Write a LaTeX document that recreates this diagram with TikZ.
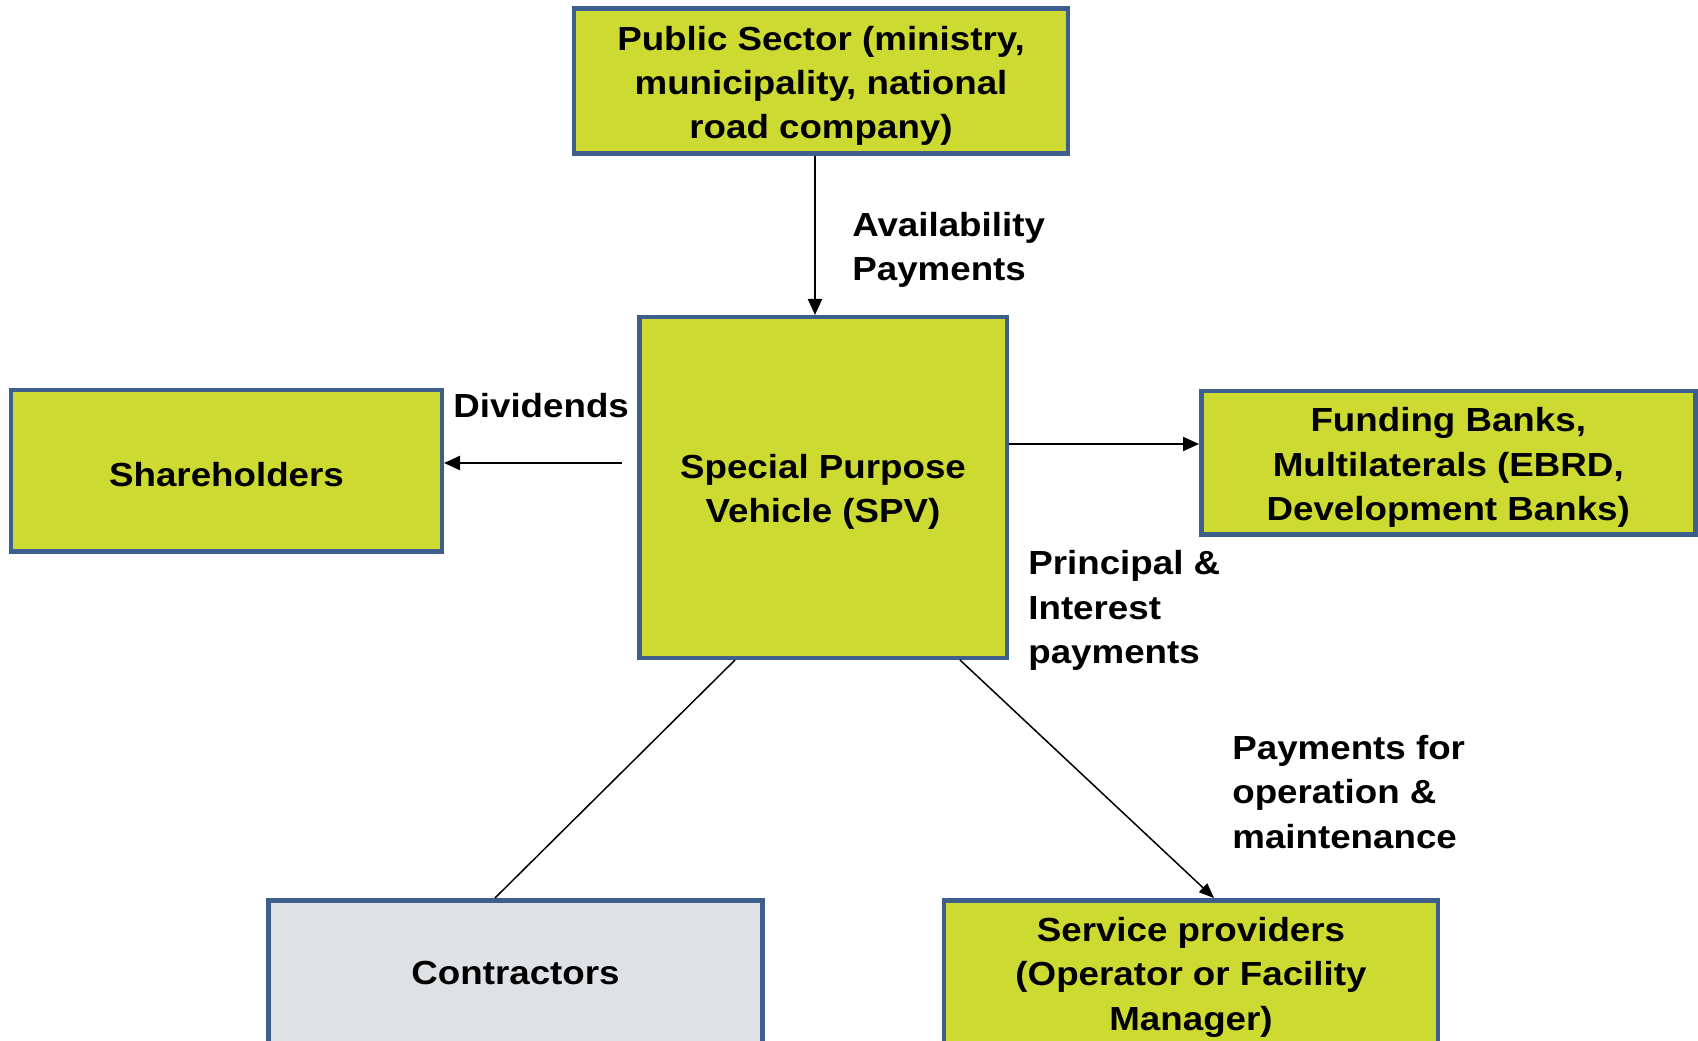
\documentclass[tikz,border=0pt]{standalone}
\usepackage{fontspec}
\usepackage{tikz}
\usetikzlibrary{positioning,arrows.meta}
\newfontfamily\diagfont{Liberation Sans}[FakeStretch=1.10]
\definecolor{pppgreen}{RGB}{205,218,50}
\definecolor{pppblue}{RGB}{62,95,140}
\definecolor{pppgrey}{RGB}{222,226,228}
% extra room above the first text line of a box
\newcommand{\toppad}{\rule{0pt}{1em}}

\begin{document}
\begin{tikzpicture}[
  every node/.style={font=\diagfont\bfseries\fontsize{19}{25.2}\selectfont},
  party/.style={draw=pppblue,fill=pppgreen,line width=0.09cm,minimum width=9.88cm,minimum height=2.9cm,align=center,inner sep=0pt},
  flowlbl/.style={anchor=west,align=left,inner sep=0pt},
  flow/.style={line width=0.045cm,-{Triangle[length=0.32cm,width=0.28cm]}},
  thinflow/.style={line width=0.03cm}]

\useasboundingbox (0,0) rectangle (33.96,-20.82);

\node[party,minimum width=7.35cm,minimum height=6.81cm] (spv) at (16.46,-9.75) {\toppad Special Purpose\\Vehicle (SPV)};
\node[party,above=3.18cm of spv,xshift=-0.04cm] (pub) {\toppad Public Sector (ministry,\\municipality, national\\road company)};
\node[party,left=3.86cm of spv,yshift=0.33cm,minimum width=8.61cm,minimum height=3.23cm] (share) {\rule{0pt}{0.93em}Shareholders};
\node[party,right=3.80cm of spv,yshift=0.49cm,minimum height=2.87cm] (fund) {\toppad Funding Banks,\\Multilaterals (EBRD,\\Development Banks)};
\node[party,below=4.76cm of spv,xshift=-6.15cm,fill=pppgrey] (contr) {Contractors};
\node[party,below=4.76cm of spv,xshift=7.36cm] (serv) {\toppad Service providers\\(Operator or Facility\\Manager)};

% money flows
\draw[flow] ([xshift=-0.12cm]pub.south) -- ([xshift=-0.12cm]pub.south |- spv.north);
\coordinate (divfrom) at ([xshift=-0.3cm,yshift=0.49cm]spv.west);
\draw[flow] (divfrom) -- (divfrom -| share.east);
\coordinate (bankfrom) at ([yshift=0.87cm]spv.east);
\draw[flow] (bankfrom) -- (bankfrom -| fund.west);
\draw[thinflow] ([xshift=-1.76cm]spv.south) -- ([xshift=-0.41cm]contr.north);
\draw[thinflow,-{Triangle[length=0.3cm,width=0.24cm]}] ([xshift=2.74cm]spv.south) -- ([xshift=0.46cm]serv.north);

\node[flowlbl] (avail) at (17.04,-5.0) {Availability\\Payments};
\node[flowlbl] (div) at (9.06,-8.12) {Dividends};
\node[flowlbl] (princ) at (20.56,-12.21) {Principal \&\\Interest\\payments};
\node[flowlbl] (payop) at (24.64,-15.84) {Payments for\\operation \&\\maintenance};
\end{tikzpicture}
\end{document}
